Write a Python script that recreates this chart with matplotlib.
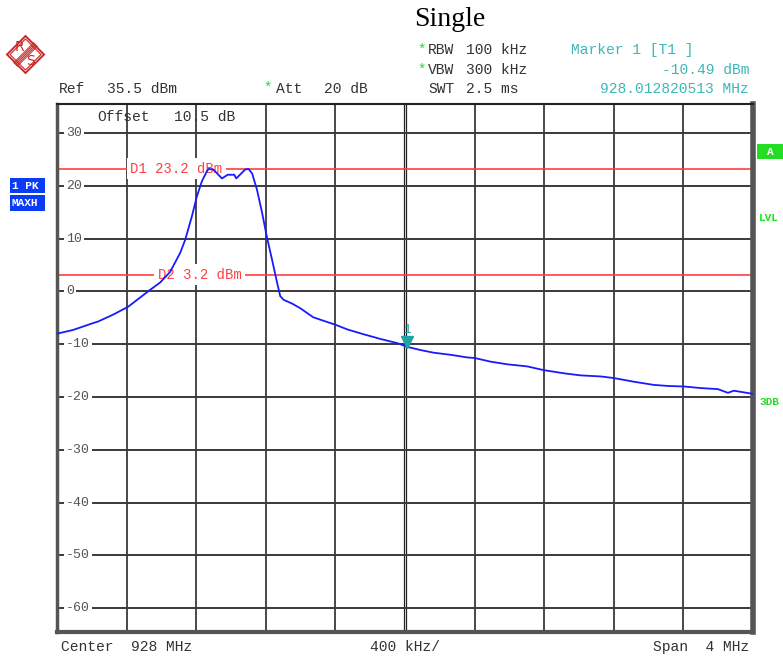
import matplotlib
matplotlib.use('Agg')
import matplotlib.pyplot as plt
from matplotlib.patches import Rectangle, Polygon
import numpy as np

# ======================
# data
# ======================
freq_mhz = [926.000, 926.092, 926.207, 926.236, 926.322, 926.409, 926.460, 926.535,
            926.593, 926.650, 926.708, 926.737, 926.775, 926.804, 926.833, 926.862,
            926.871, 926.898, 926.948, 926.981, 927.019, 927.030, 927.082, 927.101,
            927.122, 927.149, 927.178, 927.207, 927.236, 927.264, 927.283, 927.303,
            927.351, 927.399, 927.473, 927.554, 927.600, 927.669, 927.761, 927.859,
            927.957, 928.014, 928.089, 928.164, 928.262, 928.358, 928.400, 928.492,
            928.588, 928.703, 928.797, 928.912, 929.010, 929.125, 929.200, 929.315,
            929.430, 929.510, 929.603, 929.700, 929.798, 929.856, 929.890, 930.000]
level_dbm = [-8.0, -7.3, -6.0, -5.7, -4.4, -2.9, -1.6, 0.3,
             1.7, 3.7, 7.3, 9.8, 14.2, 18.0, 20.9, 22.8,
             23.2, 23.1, 21.4, 22.1, 22.1, 21.4, 23.1, 23.2,
             22.3, 19.3, 15.0, 10.2, 6.0, 1.8, -0.9, -1.6,
             -2.3, -3.2, -4.9, -5.8, -6.3, -7.2, -8.1, -9.0,
             -9.8, -10.5, -11.1, -11.6, -12.0, -12.5, -12.6, -13.3,
             -13.8, -14.2, -14.9, -15.5, -15.9, -16.1, -16.4, -17.1,
             -17.7, -17.9, -18.0, -18.3, -18.5, -19.2, -18.8, -19.4]

center_mhz = 928.0
span_mhz = 4.0
ref_dbm = 35.5
range_db = 100
y_ticks = [30, 20, 10, 0, -10, -20, -30, -40, -50, -60]
display_lines = {'D1': 23.2, 'D2': 3.2}
marker_freq = 928.012820513
marker_level = -10.49

# ======================
# figure
# ======================
W, H = 783, 657
fig = plt.figure(figsize=(W / 100, H / 100), dpi=100)
fig.patch.set_facecolor('white')

def fx(x, y):
    return x / W, 1 - y / H

mono = 'Liberation Mono'
txt_col = '#333333'
cyan = '#3ab8b8'
green = '#22dd22'
red = '#ff4040'

ax = fig.add_axes([57 / W, 1 - 632 / H, (753 - 57) / W, (632 - 104) / H])
x0 = center_mhz - span_mhz / 2
x1 = center_mhz + span_mhz / 2
ax.set_xlim(x0, x1)
ax.set_ylim(ref_dbm - range_db, ref_dbm)
ax.set_xticks([])
ax.set_yticks([])

for s in ['left', 'bottom', 'right']:
    ax.spines[s].set_color('#555555')
ax.spines['left'].set_linewidth(2.5)
ax.spines['bottom'].set_linewidth(3)
ax.spines['right'].set_linewidth(4)
ax.spines['top'].set_linewidth(1.5)
ax.spines['top'].set_color('#222222')

# grid
div = span_mhz / 10
for i in range(1, 10):
    xv = x0 + i * div
    if i == 5:
        ax.axvline(xv - 0.008, color='#222222', lw=0.9, zorder=1)
        ax.axvline(xv + 0.008, color='#222222', lw=0.9, zorder=1)
    else:
        ax.axvline(xv, color='#2a2a2a', lw=1.2, zorder=1)
for yv in y_ticks:
    ax.axhline(yv, color='#3a3a3a', lw=1.4, zorder=1)

lab_tr = matplotlib.transforms.blended_transform_factory(ax.transAxes, ax.transData)
for yv in y_ticks:
    ax.text(9 / 696, yv, str(yv), transform=lab_tr, fontsize=9.5, family=mono,
            color='#555555', ha='left', va='center', zorder=2,
            bbox=dict(facecolor='white', edgecolor='none', pad=1.2))

# display lines
ax.axhline(display_lines['D1'], color=red, lw=1.2, zorder=2)
ax.axhline(display_lines['D2'], color=red, lw=1.2, zorder=2)
ax.text(926.42, display_lines['D1'], 'D1 23.2 dBm', fontsize=10, family=mono,
        color=red, ha='left', va='center', zorder=3,
        bbox=dict(facecolor='white', edgecolor='none', pad=2.5))
ax.text(926.58, display_lines['D2'], 'D2 3.2 dBm', fontsize=10, family=mono,
        color=red, ha='left', va='center', zorder=3,
        bbox=dict(facecolor='white', edgecolor='none', pad=2.5))

# trace
ax.plot(freq_mhz, level_dbm, color='#1a1aff', lw=1.3, zorder=5)

# marker
ax.plot([marker_freq], [marker_level + 0.9], marker='v', color='#1fa3a3',
        markersize=8, zorder=6, clip_on=False)
ax.text(marker_freq, marker_level + 3.1, '1', fontsize=9, family=mono,
        color='#1fa3a3', ha='center', va='center', zorder=6)

# ======================
# screen annotations
# ======================
def ft(x, y, s, **kw):
    kw.setdefault('family', mono)
    kw.setdefault('fontsize', 10.5)
    kw.setdefault('color', txt_col)
    kw.setdefault('va', 'center')
    fig.text(*fx(x, y), s, **kw)

ft(414, 20, 'Single', family='Liberation Serif', fontsize=20, color='black')

ft(417, 50, '*', color=green, fontsize=10)
ft(428, 50, 'RBW')
ft(466, 50, '100 kHz')
ft(417, 70, '*', color=green, fontsize=10)
ft(428, 70, 'VBW')
ft(466, 70, '300 kHz')
ft(428, 89, 'SWT')
ft(466, 89, '2.5 ms')

ft(571, 50, 'Marker 1 [T1 ]', color=cyan)
ft(749, 70, f'{marker_level:.2f} dBm', color=cyan, ha='right')
ft(749, 89, f'{marker_freq:.9f} MHz', color=cyan, ha='right')

ft(59, 89, 'Ref')
ft(107, 89, f'{ref_dbm} dBm')
ft(263, 88, '*', color=green, fontsize=10)
ft(276, 89, 'Att')
ft(324, 89, '20 dB')
ft(97, 117, 'Offset')
ft(174, 117, '10.5 dB')

ft(61, 647, f'Center  {center_mhz:g} MHz')
ft(370, 647, f'{span_mhz / 10 * 1000:g} kHz/')
ft(749, 647, f'Span  {span_mhz:g} MHz', ha='right')

# left trace info boxes
blue = '#0a3cf5'
for (yt, yb, s) in [(178, 193, '1 PK'), (195, 211, 'MAXH')]:
    x_, y_ = fx(10, yb)
    fig.patches.append(Rectangle((x_, y_), 35 / W, (yb - yt) / H,
                                 transform=fig.transFigure, facecolor=blue,
                                 edgecolor='none'))
    ft(12, (yt + yb) / 2, s, color='white', fontsize=8, weight='bold')

# right side labels
x_, y_ = fx(757, 159)
fig.patches.append(Rectangle((x_, y_), 26 / W, 15 / H, transform=fig.transFigure,
                             facecolor=green, edgecolor='none'))
ft(770, 152, 'A', color='white', fontsize=8, weight='bold', ha='center')
ft(759, 218, 'LVL', color=green, fontsize=8, weight='bold')
ft(759, 402, '3DB', color=green, fontsize=8, weight='bold')

# R&S logo
cx, cy, r = 25.5, 54.5, 18.5
logo_red = '#cc2a2a'
for rr, lw in [(r, 1.4), (r - 3, 0.8)]:
    pts = [fx(cx, cy - rr), fx(cx + rr, cy), fx(cx, cy + rr), fx(cx - rr, cy)]
    fig.patches.append(Polygon(pts, closed=True, transform=fig.transFigure,
                               facecolor='none', edgecolor=logo_red, lw=lw))
for off in np.linspace(-1.8, 1.8, 5):
    a = fx(cx - 10 + off, cy + 10 + off)
    b = fx(cx + 10 + off, cy - 10 + off)
    fig.add_artist(plt.Line2D([a[0], b[0]], [a[1], b[1]], color=logo_red, lw=0.7,
                              transform=fig.transFigure))
ft(19.5, 47, 'R', family='DejaVu Sans', fontsize=10, color=logo_red, ha='center')
ft(30.5, 61, 'S', family='DejaVu Sans', fontsize=10, color=logo_red, ha='center')

fig.savefig('out.png', dpi=100)
